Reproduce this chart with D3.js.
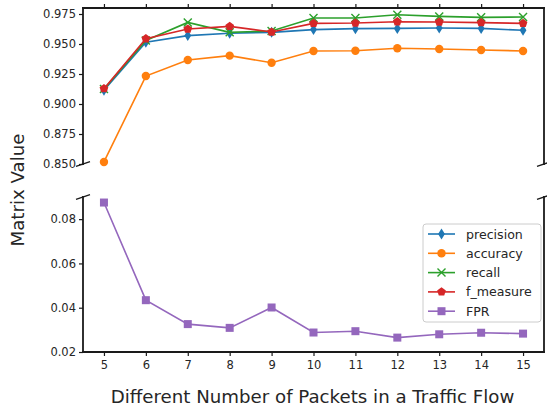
<!DOCTYPE html>
<html>
<head>
<meta charset="utf-8">
<script src="https://cdn.jsdelivr.net/npm/d3@7"></script>
<style>
  body { margin: 0; background: #fff; }
  svg text { font-family: "DejaVu Sans", sans-serif; fill: #262626; }
</style>
</head>
<body>
<div id="chart"></div>
<script>
// data
var packets = [5, 6, 7, 8, 9, 10, 11, 12, 13, 14, 15];
var precision = [0.9115, 0.9515, 0.957, 0.959, 0.9597, 0.962, 0.9628, 0.963, 0.9633, 0.963, 0.9614];
var accuracy  = [0.8517, 0.9233, 0.9367, 0.9403, 0.9344, 0.9442, 0.9444, 0.9464, 0.9458, 0.945, 0.9442];
var recall    = [0.9125, 0.953, 0.968, 0.9597, 0.9608, 0.9717, 0.9717, 0.9744, 0.973, 0.9722, 0.9725];
var fMeasure  = [0.9128, 0.9544, 0.9625, 0.9647, 0.960, 0.9672, 0.9675, 0.9686, 0.9683, 0.9678, 0.9672];
var fpr       = [0.0875, 0.0434, 0.0326, 0.0309, 0.0401, 0.0288, 0.0294, 0.0265, 0.0280, 0.0287, 0.0283];
var topTicks = [0.850, 0.875, 0.900, 0.925, 0.950, 0.975];
var bottomTicks = [0.02, 0.04, 0.06, 0.08];

var W = 547, H = 411;
var left = 83, right = 544;
var top1 = 8, bot1 = 164, top2 = 197, bot2 = 352;

var svg = d3.select("#chart").append("svg")
    .attr("width", W).attr("height", H);

var x = d3.scaleLinear().domain([4.5, 15.5]).range([left, right]);
var yTop = d3.scaleLinear().domain([0.85, 0.98]).range([bot1, top1]);
var yBot = d3.scaleLinear().domain([0.02, 0.09]).range([bot2, top2]);

var ink = "#1a1a1a";

// axes
var gTopAx = svg.append("g").attr("transform", "translate(" + left + ",0)")
    .call(d3.axisLeft(yTop).tickValues(topTicks).tickFormat(d3.format(".3f")).tickSize(4).tickPadding(3));
var gBotAx = svg.append("g").attr("transform", "translate(" + left + ",0)")
    .call(d3.axisLeft(yBot).tickValues(bottomTicks).tickFormat(d3.format(".2f")).tickSize(4).tickPadding(3));
var gXtop = svg.append("g").attr("transform", "translate(0," + top1 + ")")
    .call(d3.axisTop(x).tickValues(packets).tickFormat("").tickSize(4));
var gXbot = svg.append("g").attr("transform", "translate(0," + bot2 + ")")
    .call(d3.axisBottom(x).tickValues(packets).tickFormat(d3.format("d")).tickSize(4).tickPadding(5));

[gTopAx, gBotAx, gXtop, gXbot].forEach(function(g) {
  g.select(".domain").remove();
  g.selectAll("line").attr("stroke", ink).attr("stroke-width", 1.2);
  g.selectAll("text").attr("font-size", 11.5).attr("fill", "#262626")
    .style("font-family", "DejaVu Sans");
});

// spines
var spine = function(x1, y1, x2, y2) {
  svg.append("line").attr("x1", x1).attr("y1", y1).attr("x2", x2).attr("y2", y2)
    .attr("stroke", ink).attr("stroke-width", 1.8).attr("stroke-linecap", "square");
};
spine(left, top1, right, top1);
spine(left, top1, left, bot1);
spine(right, top1, right, bot1);
spine(left, top2, left, bot2);
spine(right, top2, right, bot2);
spine(left, bot2, right, bot2);

// break marks
[[left, bot1], [right, bot1], [left, top2], [right, top2]].forEach(function(p) {
  svg.append("line")
    .attr("x1", p[0] - 7).attr("y1", p[1] + 2.3)
    .attr("x2", p[0] + 7).attr("y2", p[1] - 2.3)
    .attr("stroke", ink).attr("stroke-width", 1.4);
});

var series = [
  { name: "precision", values: precision, color: "#1f77b4", marker: "diamond" },
  { name: "accuracy", values: accuracy, color: "#ff7f0e", marker: "circle" },
  { name: "recall", values: recall, color: "#2ca02c", marker: "x" },
  { name: "f_measure", values: fMeasure, color: "#d62728", marker: "pentagon" },
  { name: "FPR", values: fpr, color: "#9467bd", marker: "square" }
];

function drawMarker(g, kind, color) {
  if (kind === "circle") {
    g.append("circle").attr("r", 4.2).attr("fill", color);
  } else if (kind === "square") {
    g.append("rect").attr("x", -4).attr("y", -4).attr("width", 8).attr("height", 8).attr("fill", color);
  } else if (kind === "diamond") {
    g.append("path").attr("d", "M0,-5.5L3.4,0L0,5.5L-3.4,0Z").attr("fill", color);
  } else if (kind === "pentagon") {
    var pts = d3.range(5).map(function(i) {
      var a = -Math.PI / 2 + i * 2 * Math.PI / 5;
      return [4.6 * Math.cos(a), 4.6 * Math.sin(a)];
    });
    g.append("path").attr("d", "M" + pts.join("L") + "Z").attr("fill", color);
  } else if (kind === "x") {
    g.append("path").attr("d", "M-4,-4L4,4M-4,4L4,-4")
      .attr("stroke", color).attr("stroke-width", 1.4).attr("fill", "none");
  }
}

series.forEach(function(s) {
  var y = s.name === "FPR" ? yBot : yTop;
  var line = d3.line().x(function(d, i) { return x(packets[i]); }).y(function(d) { return y(d); });
  svg.append("path").datum(s.values)
    .attr("d", line).attr("fill", "none")
    .attr("stroke", s.color).attr("stroke-width", 1.6);
  s.values.forEach(function(v, i) {
    var g = svg.append("g").attr("transform", "translate(" + x(packets[i]) + "," + y(v) + ")");
    drawMarker(g, s.marker, s.color);
  });
});

// legend
var lg = svg.append("g").attr("transform", "translate(423,224)");
lg.append("rect").attr("width", 118).attr("height", 98).attr("rx", 3)
  .attr("fill", "#fff").attr("fill-opacity", 0.8)
  .attr("stroke", "#cccccc").attr("stroke-width", 1);
series.forEach(function(s, i) {
  var row = lg.append("g").attr("transform", "translate(0," + (10 + i * 19.3) + ")");
  row.append("line").attr("x1", 5).attr("x2", 32).attr("y1", 0).attr("y2", 0)
    .attr("stroke", s.color).attr("stroke-width", 1.6);
  var m = row.append("g").attr("transform", "translate(18.5,0)");
  drawMarker(m, s.marker, s.color);
  row.append("text").attr("x", 43).attr("y", 0).attr("dy", "0.36em")
    .attr("font-size", 12.6).text(s.name);
});

// axis labels
svg.append("text").attr("x", (left + right) / 2 - 1).attr("y", 403)
  .attr("text-anchor", "middle").attr("font-size", 18.2)
  .text("Different Number of Packets in a Traffic Flow");
svg.append("text").attr("transform", "translate(24,190) rotate(-90)")
  .attr("text-anchor", "middle").attr("font-size", 18.2)
  .text("Matrix Value");
</script>
</body>
</html>
